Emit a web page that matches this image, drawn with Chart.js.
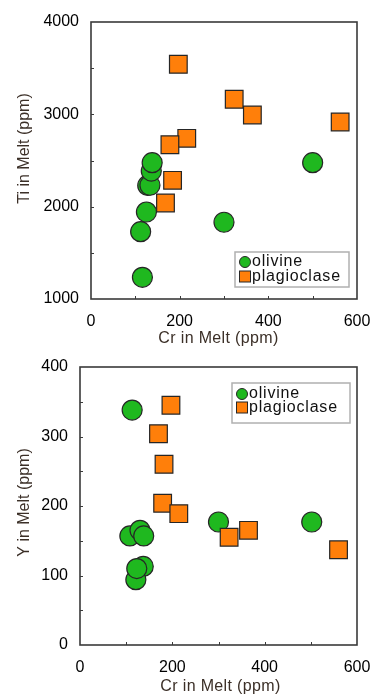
<!DOCTYPE html>
<html><head><meta charset="utf-8">
<script src="https://cdn.jsdelivr.net/npm/chart.js@4"></script>
<style>
html,body{margin:0;padding:0;background:#fff;width:372px;height:694px;overflow:hidden}
.w{position:relative;width:372px}
#a{height:350px}#b{height:344px}
canvas{display:block}
</style></head><body>
<div class="w" id="a"><canvas id="c1"></canvas></div>
<div class="w" id="b"><canvas id="c2"></canvas></div>
<script>
// ---- data ----
const seriesNames = ['olivine', 'plagioclase'];
// Chart 1: Ti vs Cr
const tiOlivineCr = [116, 112, 125, 128, 133, 136, 138, 300, 500];
const tiOlivine   = [1235, 1729, 1942, 2230, 2232, 2386, 2476, 1831, 2476];
const tiPlagCr    = [197, 323, 364, 562, 216, 178, 184, 168];
const tiPlag      = [3542, 3163, 2993, 2917, 2740, 2671, 2285, 2040];
// Chart 2: Y vs Cr
const yOlivineCr  = [113, 108, 130, 138, 137, 121, 123, 300, 502];
const yOlivine    = [338, 157, 165, 157, 113, 94, 110, 177, 177];
const yPlagCr     = [197, 170, 182, 179, 214, 323, 365, 560];
const yPlag       = [345, 304, 260, 204, 189, 155, 165, 137];
// ticks
const crTickLabels = [0, 200, 400, 600];
const crMinorTicks = [100, 200, 300, 400, 500];
const tiTickLabels = [1000, 2000, 3000, 4000];
const tiMinorTicks = [1500, 2000, 2500, 3000, 3500];
const yTickLabels  = [0, 100, 200, 300, 400];
const yMinorTicks  = [50, 100, 150, 200, 250, 300, 350];
// axis titles
const xTitle = 'Cr in Melt (ppm)';
const tiTitle = 'Ti in Melt (ppm)';
const yTitle = 'Y in Melt (ppm)';

const FONT = "'Liberation Sans', Arial, sans-serif";
const GREEN = '#1fb81f', ORANGE = '#ff7f0a', EDGE = '#262626', TITLE_C = '#3b2f27';

function pts(xs, ys) { return xs.map((x, i) => ({x: x, y: ys[i]})); }

const framePlugin = {
  id: 'frame',
  beforeDatasetsDraw(chart, args, opts) {
    const {ctx, chartArea: a, scales} = chart;
    ctx.save();
    ctx.strokeStyle = '#3a3a3a';
    ctx.lineWidth = 1.6;
    ctx.strokeRect(a.left, a.top, a.right - a.left, a.bottom - a.top);
    ctx.lineWidth = 1;
    ctx.beginPath();
    opts.xMinor.forEach(v => {
      const px = Math.round(scales.x.getPixelForValue(v)) + 0.5;
      ctx.moveTo(px, a.bottom); ctx.lineTo(px, a.bottom - 3);
    });
    opts.yMinor.forEach(v => {
      const py = Math.round(scales.y.getPixelForValue(v)) + 0.5;
      ctx.moveTo(a.left, py); ctx.lineTo(a.left + 3, py);
    });
    ctx.stroke();
    // axis titles
    ctx.fillStyle = TITLE_C;
    ctx.font = '16px ' + FONT;
    ctx.textAlign = 'center';
    ctx.textBaseline = 'middle';
    const t = opts.titles;
    try { ctx.letterSpacing = '0.35px'; } catch (e) {}
    ctx.fillText(t.x, (a.left + a.right) / 2 + t.xdx, t.xy);
    try { ctx.letterSpacing = '0px'; } catch (e) {}
    ctx.translate(t.yx, (a.top + a.bottom) / 2 + t.ydy);
    ctx.rotate(-Math.PI / 2);
    ctx.fillText(t.y, 0, 0);
    ctx.restore();
  },
  afterDatasetsDraw(chart, args, opts) {
    const {ctx, chartArea: a} = chart;
    const L = opts.legend;
    const x0 = a.right - L.right - L.w;
    const y0 = L.top != null ? a.top + L.top : a.bottom - L.bottom - L.h;
    ctx.save();
    ctx.fillStyle = '#fff';
    ctx.fillRect(x0, y0, L.w, L.h);
    ctx.strokeStyle = '#b0b0b0';
    ctx.lineWidth = 1.5;
    ctx.strokeRect(x0, y0, L.w, L.h);
    const mx = x0 + 10, r1 = L.y1, r2 = L.y2;
    ctx.beginPath();
    ctx.arc(mx, y0 + r1, 5.5, 0, Math.PI * 2);
    ctx.fillStyle = GREEN; ctx.fill();
    ctx.strokeStyle = EDGE; ctx.lineWidth = 1; ctx.stroke();
    ctx.fillStyle = ORANGE;
    ctx.fillRect(mx - 5.5, y0 + r2 - 5.5, 11, 11);
    ctx.strokeRect(mx - 5.5, y0 + r2 - 5.5, 11, 11);
    ctx.fillStyle = '#111';
    ctx.font = '16px ' + FONT;
    ctx.textBaseline = 'middle';
    ctx.textAlign = 'left';
    try { ctx.letterSpacing = '0.8px'; } catch (e) {}
    ctx.fillText(seriesNames[0], mx + 7, y0 + r1);
    ctx.fillText(seriesNames[1], mx + 7, y0 + r2);
    ctx.restore();
  }
};

function makeChart(id, cfg) {
  return new Chart(document.getElementById(id), {
    type: 'scatter',
    data: {
      datasets: [
        {label: seriesNames[0], data: pts(cfg.olX, cfg.olY), order: 2,
         pointStyle: 'circle', radius: 10, hoverRadius: 10,
         backgroundColor: GREEN, borderColor: EDGE, borderWidth: 1.2},
        {label: seriesNames[1], data: pts(cfg.plX, cfg.plY), order: 1,
         pointStyle: 'rect', radius: 12.5, hoverRadius: 12.5,
         backgroundColor: ORANGE, borderColor: EDGE, borderWidth: 1.2}
      ]
    },
    options: {
      responsive: true, maintainAspectRatio: false, animation: false,
      devicePixelRatio: 1,
      layout: {padding: {top: cfg.padTop, right: 15, left: 0, bottom: 0}},
      plugins: {
        legend: {display: false}, tooltip: {enabled: false},
        frame: {xMinor: crMinorTicks, yMinor: cfg.yMinor, legend: cfg.legend, titles: cfg.titles}
      },
      scales: {
        x: {
          type: 'linear', min: 0, max: 600,
          grid: {display: false, drawTicks: false}, border: {display: false},
          afterBuildTicks: s => { s.ticks = crTickLabels.map(v => ({value: v})); },
          afterFit: s => { s.height = cfg.xHeight; s.paddingLeft = 0; s.paddingRight = 0; },
          ticks: {padding: 13, color: '#000', font: {family: FONT, size: 16}, maxRotation: 0, autoSkip: false,
                  callback: v => String(v)},
          title: {display: false}
        },
        y: {
          type: 'linear', min: cfg.yMin, max: cfg.yMax,
          grid: {display: false, drawTicks: false}, border: {display: false},
          afterBuildTicks: s => { s.ticks = cfg.yLabels.map(v => ({value: v})); },
          afterFit: s => { s.width = cfg.yWidth; s.paddingTop = 0; s.paddingBottom = 0; },
          ticks: {padding: 12, color: '#000', font: {family: FONT, size: 16}, autoSkip: false,
                  callback: v => String(v)},
          title: {display: false}
        }
      }
    },
    plugins: [framePlugin]
  });
}

makeChart('c1', {
  olX: tiOlivineCr, olY: tiOlivine, plX: tiPlagCr, plY: tiPlag,
  yMin: 1000, yMax: 4000, yLabels: tiTickLabels, yMinor: tiMinorTicks,
  padTop: 22, yWidth: 91, xHeight: 51,
  titles: {x: xTitle, y: tiTitle, xdx: -5.5, xy: 339, yx: 25, ydy: -12},
  legend: {right: 8, bottom: 12, w: 114, h: 35, y1: 10, y2: 24.5}
});
makeChart('c2', {
  olX: yOlivineCr, olY: yOlivine, plX: yPlagCr, plY: yPlag,
  yMin: 0, yMax: 400, yLabels: yTickLabels, yMinor: yMinorTicks,
  padTop: 17, yWidth: 80, xHeight: 49,
  titles: {x: xTitle, y: yTitle, xdx: 2, xy: 337, yx: 25, ydy: -3.5},
  legend: {right: 7, top: 16, w: 118, h: 40, y1: 11, y2: 24.5}
});
</script>
</body></html>
